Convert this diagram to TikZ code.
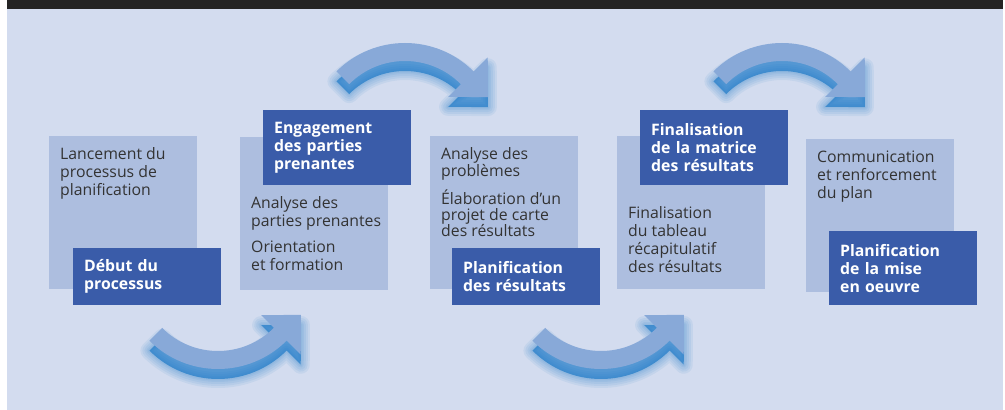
\documentclass[tikz,border=0pt]{standalone}
\usepackage{fontspec}
\setmainfont{Open Sans}
\usepackage{tikz}
\usetikzlibrary{positioning}
\definecolor{bandgray}{HTML}{242424}
\definecolor{pagebg}{HTML}{D3DCEF}
\definecolor{palebox}{HTML}{ADBEDF}
\definecolor{stepblue}{HTML}{3A5CA9}
\definecolor{arcblue}{HTML}{88A9D8}
\definecolor{glowblue}{HTML}{0A6FC4}
\definecolor{bodytext}{HTML}{333333}

\begin{document}
\begin{tikzpicture}[
    x=1pt,
    y=1pt,
    panel/.style={
        fill=palebox,
        minimum width=148pt,
        minimum height=153pt,
        inner sep=0pt,
        anchor=north west
    },
    stage/.style={
        fill=stepblue,
        text=white,
        font=\bfseries\fontsize{15.8}{18}\selectfont,
        text width=126pt,
        align=left,
        inner xsep=11pt,
        inner ysep=0pt,
        minimum height=57pt,
        anchor=north west
    },
    notes/.style={
        text=bodytext,
        font=\fontsize{15.8}{18}\selectfont,
        align=left,
        inner sep=0pt,
        anchor=north west
    },
    arcshape/.style={
        insert path={(135:97) arc[start angle=135, end angle=45, radius=97]
            -- (45:117) -- (82.9,42.9) -- (45:61) -- (45:79)
            arc[start angle=45, end angle=135, radius=79] -- cycle}
    }
]

\useasboundingbox (0,0) rectangle (1005,410);
\fill[white] (0,0) rectangle (1005,410);
\fill[pagebg] (7,0) rectangle (1003,401);
\fill[bandgray] (7,401) rectangle (1003,410);

\foreach \cx/\cy/\ys in {405/270/1, 782/270/1, 218/138/-1, 601/138/-1}{
    \foreach \w in {18,14,10,6,3}
        \draw[glowblue, opacity=.07, line width=\w, line join=round,
            shift={(\cx,\cy-10)}, yscale=\ys, arcshape];
    \fill[glowblue, opacity=.6, shift={(\cx,\cy-10)}, yscale=\ys, arcshape];
    \fill[arcblue, shift={(\cx,\cy)}, yscale=\ys, arcshape];
}

\node[panel] (lancement) at (49,274) {};
\node[stage] (debut) at (73,162) {Début du\\processus};

\node[panel] (analyse) at (240,273) {};
\node[stage, minimum height=75pt] (engagement) at (263,300)
{Engagement\\des parties\\prenantes};

\node[panel] (problemes) at (430,274) {};
\node[stage] (resultats) at (452,162) {Planification\\des résultats};

\node[panel] (tableau) at (617,274) {};
\node[stage, minimum height=75pt] (matrice) at (640,300)
{Finalisation\\de la matrice\\des résultats};

\node[panel] (communication) at (806,271) {};
\node[stage, minimum height=74pt] (miseoeuvre) at (829,179)
{Planification\\de la mise\\en oeuvre};

\node[notes] (lancementtxt) at ([xshift=11,yshift=-11.5]lancement.north west)
{Lancement du\\processus de\\planification};
\node[notes] (analysetxt) at ([xshift=11,yshift=-59.5]analyse.north west)
{Analyse des\\parties prenantes\\[8pt]Orientation\\et formation};
\node[notes, font=\fontsize{15.8}{16.3}\selectfont] (problemestxt)
at ([xshift=11,yshift=-11.5]problemes.north west)
{Analyse des\\problèmes\\[8.5pt]Élaboration d’un\\projet de carte\\des résultats};
\node[notes] (tableautxt) at ([xshift=11,yshift=-70]tableau.north west)
{Finalisation\\du tableau\\récapitulatif\\des résultats};
\node[notes] (communicationtxt) at ([xshift=11,yshift=-12]communication.north west)
{Communication\\et renforcement\\du plan};

\end{tikzpicture}
\end{document}
